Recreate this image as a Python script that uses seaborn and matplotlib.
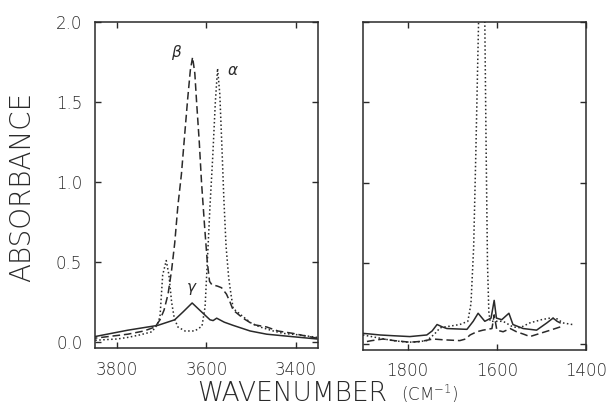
import matplotlib
matplotlib.use('Agg')
import matplotlib.pyplot as plt
import seaborn as sns

# O-H stretch region (left panel)
alpha_oh_wn = [3850, 3800, 3776, 3750, 3722, 3710, 3704, 3698, 3690, 3684, 3678, 3672,
               3664, 3648, 3626, 3610, 3603, 3598, 3592, 3586, 3580, 3575, 3570, 3565,
               3561, 3556, 3550, 3545, 3540, 3518, 3500, 3480, 3450, 3428, 3390, 3352]
alpha_oh_abs = [0.012, 0.02, 0.03, 0.045, 0.065, 0.11, 0.16, 0.42, 0.51, 0.42, 0.25, 0.15,
                0.095, 0.07, 0.07, 0.10, 0.22, 0.50, 0.85, 1.15, 1.50, 1.71, 1.55, 1.20,
                0.90, 0.60, 0.40, 0.30, 0.21, 0.16, 0.12, 0.095, 0.07, 0.055, 0.045, 0.03]

beta_oh_wn = [3850, 3776, 3740, 3715, 3704, 3695, 3686, 3678, 3671, 3664, 3656, 3648,
              3642, 3636, 3631, 3626, 3622, 3616, 3611, 3604, 3598, 3593, 3588, 3575,
              3566, 3555, 3547, 3540, 3518, 3495, 3465, 3440, 3406, 3380, 3352]
beta_oh_abs = [0.025, 0.05, 0.07, 0.095, 0.14, 0.20, 0.30, 0.45, 0.62, 0.85, 1.05, 1.32,
               1.52, 1.70, 1.78, 1.68, 1.50, 1.25, 1.00, 0.72, 0.50, 0.38, 0.36, 0.35,
               0.34, 0.30, 0.25, 0.20, 0.15, 0.11, 0.095, 0.07, 0.055, 0.04, 0.025]

gamma_oh_wn = [3850, 3776, 3709, 3671, 3652, 3632, 3615, 3592, 3585, 3577, 3560, 3540,
               3502, 3465, 3428, 3390, 3352]
gamma_oh_abs = [0.035, 0.075, 0.105, 0.14, 0.19, 0.245, 0.20, 0.14, 0.135, 0.15, 0.125, 0.105,
                0.07, 0.05, 0.04, 0.03, 0.02]

# C=O / ring region (right panel)
alpha_co_wn = [1900, 1862, 1833, 1800, 1779, 1757, 1740, 1727, 1705, 1683, 1665, 1658,
               1652, 1647, 1641, 1634, 1627, 1624, 1621, 1618, 1615, 1586, 1564, 1548,
               1526, 1500, 1481, 1465, 1452, 1431]
alpha_co_abs = [0.055, 0.035, 0.02, 0.01, 0.012, 0.02, 0.06, 0.10, 0.11, 0.12, 0.14, 0.25,
                0.60, 1.20, 2.00, 2.60, 2.00, 1.20, 0.50, 0.20, 0.14, 0.14, 0.105, 0.10,
                0.13, 0.15, 0.16, 0.155, 0.13, 0.12]

beta_co_wn = [1900, 1880, 1855, 1830, 1795, 1770, 1743, 1720, 1683, 1670, 1660, 1645,
              1631, 1611, 1606, 1600, 1586, 1570, 1556, 1540, 1526, 1503, 1480, 1458]
beta_co_abs = [0.01, 0.02, 0.03, 0.02, 0.01, 0.015, 0.03, 0.025, 0.02, 0.03, 0.055, 0.075,
               0.085, 0.095, 0.18, 0.085, 0.075, 0.095, 0.075, 0.06, 0.045, 0.065, 0.085, 0.105]

gamma_co_wn = [1900, 1880, 1862, 1830, 1795, 1757, 1745, 1734, 1722, 1712, 1667, 1653,
               1642, 1627, 1613, 1606, 1601, 1589, 1573, 1564, 1541, 1511, 1488, 1474,
               1465, 1458]
gamma_co_abs = [0.065, 0.06, 0.055, 0.05, 0.045, 0.055, 0.08, 0.12, 0.105, 0.095, 0.09, 0.14,
                0.19, 0.14, 0.16, 0.27, 0.16, 0.15, 0.19, 0.12, 0.095, 0.085, 0.13, 0.16,
                0.14, 0.13]

y_ticks = [0.0, 0.5, 1.0, 1.5, 2.0]
y_tick_labels = ['0.0', '0.5', '1.0', '1.5', '2.0']

sns.set_style('ticks')
plt.rcParams['font.family'] = ['DejaVu Sans']
plt.rcParams['font.weight'] = 'light'
ink = '#2a2a2a'

fig = plt.figure(figsize=(6.08, 4.16), dpi=100)
ax1 = fig.add_axes([0.156, 0.163, 0.367, 0.784])
ax2 = fig.add_axes([0.597, 0.159, 0.367, 0.788])

styles = {'alpha': dict(linestyle=(0, (1, 1.6)), linewidth=1.1),
          'beta': dict(linestyle=(0, (5, 2.5)), linewidth=1.1),
          'gamma': dict(linestyle='-', linewidth=1.1)}

panels = [
    (ax1, [('alpha', alpha_oh_wn, alpha_oh_abs), ('beta', beta_oh_wn, beta_oh_abs),
           ('gamma', gamma_oh_wn, gamma_oh_abs)], (3850, 3350), [3800, 3600, 3400]),
    (ax2, [('alpha', alpha_co_wn, alpha_co_abs), ('beta', beta_co_wn, beta_co_abs),
           ('gamma', gamma_co_wn, gamma_co_abs)], (1900, 1400), [1800, 1600, 1400]),
]

for ax, curves, xlim, xticks in panels:
    for name, wn, ab in curves:
        sns.lineplot(x=wn, y=ab, ax=ax, color=ink, estimator=None, legend=False,
                     **styles[name])
    ax.set_xlim(*xlim)
    ax.set_ylim(-0.0375, 2.0)
    ax.set_xticks(xticks)
    ax.set_yticks(y_ticks)
    ax.tick_params(direction='in', top=True, right=True, length=4, width=1,
                   color=ink, labelcolor=ink, labelsize=12, pad=9)
    for sp in ax.spines.values():
        sp.set_color(ink)
        sp.set_linewidth(1.1)
    ax.set_xlabel('')
    ax.set_ylabel('')

ax1.set_yticklabels(y_tick_labels)
ax2.set_yticklabels([])

# curve labels
ax1.text(3666, 1.81, r'$\beta$', fontsize=11, color=ink, ha='center', va='center')
ax1.text(3541, 1.70, r'$\alpha$', fontsize=11, color=ink, ha='center', va='center')
ax1.text(3632, 0.33, r'$\gamma$', fontsize=11, color=ink, ha='center', va='center')

fig.text(0.037, 0.55, 'ABSORBANCE', rotation=90, fontsize=20, color=ink,
         ha='center', va='center')
fig.text(0.325, 0.055, 'WAVENUMBER', fontsize=19, color=ink, ha='left', va='center')
fig.text(0.66, 0.052, r'(CM$^{-1}$)', fontsize=12, color=ink, ha='left', va='center')

fig.savefig('out.png', dpi=100)
